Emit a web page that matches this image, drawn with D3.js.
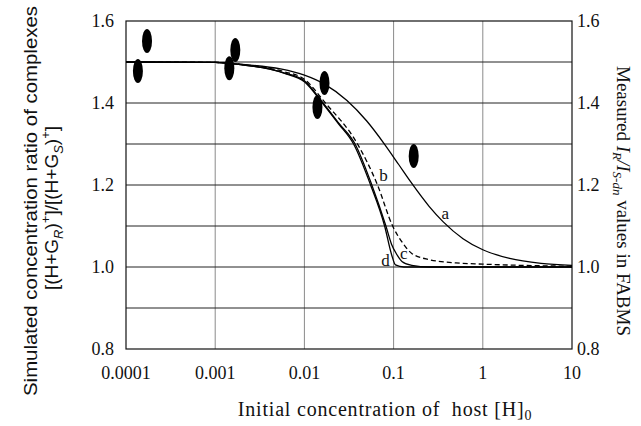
<!DOCTYPE html>
<html>
<head>
<meta charset="utf-8">
<script src="https://cdn.jsdelivr.net/npm/d3@7"></script>
<style>
  body { margin: 0; background: #fff; }
  svg { display: block; }
  .tick-label { font-family: "Liberation Serif", serif; font-size: 18px; fill: #111; }
  .curve-label { font-family: "Liberation Serif", serif; font-size: 17px; fill: #111; }
</style>
</head>
<body>
<script>
// Simulated ratio curves: [host concentration, ratio]
var curve_a = [[0.0001, 1.5], [0.001, 1.499], [0.002, 1.494], [0.0054, 1.483], [0.01, 1.468], [0.0168, 1.446],
  [0.03, 1.406], [0.05, 1.356], [0.08, 1.298], [0.114, 1.25], [0.155, 1.208], [0.25, 1.148], [0.36, 1.11],
  [0.6, 1.069], [1, 1.042], [2, 1.021], [4.5, 1.009], [10, 1.004]];
var curve_b = [[0.0001, 1.5], [0.001, 1.499], [0.002, 1.494], [0.004, 1.485], [0.006, 1.476], [0.01, 1.458],
  [0.0172, 1.40], [0.0394, 1.30], [0.066, 1.20], [0.0975, 1.10], [0.13, 1.055], [0.16, 1.033], [0.25, 1.018],
  [0.5, 1.01], [1, 1.007], [4.5, 1.003], [10, 1.002]];
var curve_c = [[0.0001, 1.5], [0.001, 1.499], [0.002, 1.493], [0.004, 1.483], [0.006, 1.473], [0.01, 1.454],
  [0.0162, 1.40], [0.024, 1.352], [0.037, 1.30], [0.057, 1.20], [0.082, 1.10], [0.095, 1.055], [0.107, 1.033],
  [0.125, 1.013], [0.16, 1.004], [0.25, 1.0], [10, 1.0]];
var curve_d = [[0.0001, 1.5], [0.001, 1.499], [0.002, 1.493], [0.004, 1.483], [0.006, 1.472], [0.01, 1.452],
  [0.0159, 1.40], [0.024, 1.35], [0.0356, 1.30], [0.0552, 1.20], [0.0793, 1.10], [0.095, 1.03],
  [0.105, 1.005], [0.13, 1.0], [10, 1.0]];

// Measured FABMS points (filled ellipses)
var measured_x = [0.000136, 0.000172, 0.00144, 0.00168, 0.0140, 0.0168, 0.168];
var measured_y = [1.478, 1.551, 1.485, 1.529, 1.390, 1.449, 1.271];

// Curve letters and where they sit
var curve_names = ['a', 'b', 'c', 'd'];
var label_x = [0.38, 0.077, 0.13, 0.081];
var label_y = [1.127, 1.219, 1.03, 1.013];

// Tick values
var x_ticks = [0.0001, 0.001, 0.01, 0.1, 1, 10];
var x_tick_labels = ['0.0001', '0.001', '0.01', '0.1', '1', '10'];
var y_ticks = [0.8, 1.0, 1.2, 1.4, 1.6];
var y_grid = [0.9, 1.0, 1.1, 1.2, 1.3, 1.4, 1.5];

var svg_width = 641;
var svg_height = 426;
var plot_left = 126, plot_right = 572, plot_top = 21, plot_bottom = 349;

var x = d3.scaleLog().domain([0.0001, 10]).range([plot_left, plot_right]);
var y = d3.scaleLinear().domain([0.8, 1.6]).range([plot_bottom, plot_top]);

var svg = d3.select('body').append('svg')
  .attr('width', svg_width)
  .attr('height', svg_height);

// vertical grid (gray)
svg.selectAll('line.vgrid')
  .data(x_ticks.slice(1, -1))
  .enter().append('line')
  .attr('class', 'vgrid')
  .attr('x1', function(d) { return x(d); })
  .attr('x2', function(d) { return x(d); })
  .attr('y1', plot_top)
  .attr('y2', plot_bottom)
  .attr('stroke', '#8a8a8a')
  .attr('stroke-width', 1);

// horizontal grid (dark)
svg.selectAll('line.hgrid')
  .data(y_grid)
  .enter().append('line')
  .attr('class', 'hgrid')
  .attr('x1', plot_left)
  .attr('x2', plot_right)
  .attr('y1', function(d) { return y(d); })
  .attr('y2', function(d) { return y(d); })
  .attr('stroke', '#222')
  .attr('stroke-width', 1);

// frame
svg.append('rect')
  .attr('x', plot_left)
  .attr('y', plot_top)
  .attr('width', plot_right - plot_left)
  .attr('height', plot_bottom - plot_top)
  .attr('fill', 'none')
  .attr('stroke', '#111')
  .attr('stroke-width', 1.2);

// curves
var line = d3.line()
  .x(function(d) { return x(d[0]); })
  .y(function(d) { return y(d[1]); })
  .curve(d3.curveMonotoneX);

var curves = [
  { data: curve_a, dash: null },
  { data: curve_d, dash: null },
  { data: curve_c, dash: null },
  { data: curve_b, dash: '5,3' }
];

svg.selectAll('path.curve')
  .data(curves)
  .enter().append('path')
  .attr('class', 'curve')
  .attr('d', function(d) { return line(d.data); })
  .attr('fill', 'none')
  .attr('stroke', '#000')
  .attr('stroke-width', 1.3)
  .attr('stroke-dasharray', function(d) { return d.dash; });

// measured points
svg.selectAll('ellipse.measured')
  .data(measured_x)
  .enter().append('ellipse')
  .attr('class', 'measured')
  .attr('cx', function(d) { return x(d); })
  .attr('cy', function(d, i) { return y(measured_y[i]); })
  .attr('rx', 5)
  .attr('ry', 12)
  .attr('fill', '#000');

// curve letters
svg.selectAll('text.curve-label')
  .data(curve_names)
  .enter().append('text')
  .attr('class', 'curve-label')
  .attr('x', function(d, i) { return x(label_x[i]); })
  .attr('y', function(d, i) { return y(label_y[i]); })
  .attr('text-anchor', 'middle')
  .attr('dominant-baseline', 'middle')
  .text(function(d) { return d; });

// left y tick labels
svg.selectAll('text.yleft')
  .data(y_ticks)
  .enter().append('text')
  .attr('class', 'tick-label yleft')
  .attr('x', plot_left - 12)
  .attr('y', function(d) { return y(d); })
  .attr('dy', '0.35em')
  .attr('text-anchor', 'end')
  .text(function(d) { return d.toFixed(1); });

// right y tick labels
svg.selectAll('text.yright')
  .data(y_ticks)
  .enter().append('text')
  .attr('class', 'tick-label yright')
  .attr('x', plot_right + 5)
  .attr('y', function(d) { return y(d); })
  .attr('dy', '0.35em')
  .attr('text-anchor', 'start')
  .text(function(d) { return d.toFixed(1); });

// x tick labels
svg.selectAll('text.xtick')
  .data(x_ticks)
  .enter().append('text')
  .attr('class', 'tick-label xtick')
  .attr('x', function(d) { return x(d); })
  .attr('y', plot_bottom + 30)
  .attr('text-anchor', 'middle')
  .text(function(d, i) { return x_tick_labels[i]; });

// x axis title
var xt = svg.append('text')
  .attr('x', 385)
  .attr('y', 416)
  .attr('text-anchor', 'middle')
  .style('font-family', '"Liberation Serif", serif')
  .style('font-size', '20px')
  .style('letter-spacing', '0.8px')
  .style('fill', '#111');
xt.append('tspan').text('Initial concentration of\u00a0 host [H]');
xt.append('tspan').attr('dy', 4).attr('font-size', 14).text('0');

// left y title, two lines, sans
var lt = svg.append('g')
  .attr('transform', 'translate(37,201) rotate(-90)')
  .style('font-family', '"Liberation Sans", Arial, sans-serif')
  .style('font-size', '19px')
  .style('fill', '#111');
lt.append('text')
  .attr('text-anchor', 'middle')
  .attr('textLength', 390)
  .attr('lengthAdjust', 'spacingAndGlyphs')
  .text('Simulated concentration ratio of complexes');
var l2 = lt.append('text')
  .attr('x', -7)
  .attr('y', 21)
  .attr('text-anchor', 'middle')
  .style('font-size', '19px');
l2.append('tspan').text('[(H+G');
l2.append('tspan').attr('dy', 5).attr('font-size', 13).attr('font-style', 'italic').text('R');
l2.append('tspan').attr('dy', -5).text(')');
l2.append('tspan').attr('dy', -8).attr('font-size', 13).text('+');
l2.append('tspan').attr('dy', 8).text(']/[(H+G');
l2.append('tspan').attr('dy', 5).attr('font-size', 13).attr('font-style', 'italic').text('S');
l2.append('tspan').attr('dy', -5).text(')');
l2.append('tspan').attr('dy', -8).attr('font-size', 13).text('+');
l2.append('tspan').attr('dy', 8).text(']');

// right y title, serif
var rt = svg.append('text')
  .attr('transform', 'translate(617,201) rotate(90)')
  .attr('text-anchor', 'middle')
  .style('font-family', '"Liberation Serif", serif')
  .style('font-size', '19px')
  .style('fill', '#111');
rt.append('tspan').text('Measured ');
rt.append('tspan').attr('font-style', 'italic').text('I');
rt.append('tspan').attr('dy', 4).attr('font-size', 13).attr('font-style', 'italic').text('R');
rt.append('tspan').attr('dy', -4).attr('font-style', 'italic').text('/I');
rt.append('tspan').attr('dy', 4).attr('font-size', 13).attr('font-style', 'italic').text('S-dn');
rt.append('tspan').attr('dy', -4).text(' values in FABMS');
</script>
</body>
</html>
